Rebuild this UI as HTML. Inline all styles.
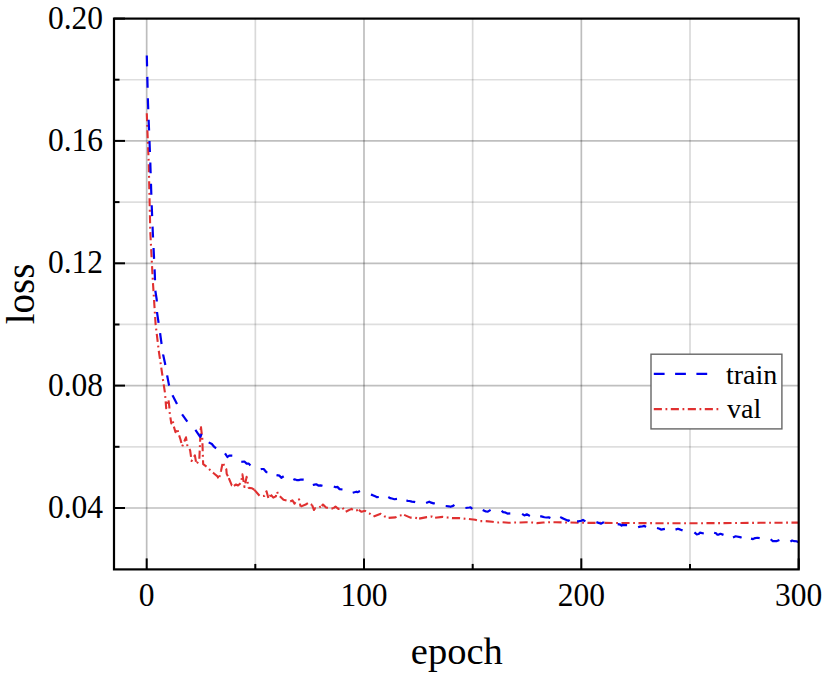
<!DOCTYPE html>
<html><head><meta charset="utf-8"><style>
html,body{margin:0;padding:0;background:#fff;}
svg{display:block;}
text{font-family:"Liberation Serif",serif;fill:#000;}
</style></head><body>
<svg width="826" height="678" viewBox="0 0 826 678">
<rect width="826" height="678" fill="#fff"/>
<defs><clipPath id="c"><rect x="114.0" y="18.6" width="684.7" height="550.8"/></clipPath></defs>
<line x1="146.67" y1="18.6" x2="146.67" y2="569.4" stroke="#000" stroke-opacity="0.26" stroke-width="1.7"/>
<line x1="255.34" y1="18.6" x2="255.34" y2="569.4" stroke="#000" stroke-opacity="0.15" stroke-width="1.7"/>
<line x1="364.00" y1="18.6" x2="364.00" y2="569.4" stroke="#000" stroke-opacity="0.26" stroke-width="1.7"/>
<line x1="472.67" y1="18.6" x2="472.67" y2="569.4" stroke="#000" stroke-opacity="0.15" stroke-width="1.7"/>
<line x1="581.34" y1="18.6" x2="581.34" y2="569.4" stroke="#000" stroke-opacity="0.26" stroke-width="1.7"/>
<line x1="690.00" y1="18.6" x2="690.00" y2="569.4" stroke="#000" stroke-opacity="0.15" stroke-width="1.7"/>
<line x1="114.0" y1="508.00" x2="798.7" y2="508.00" stroke="#000" stroke-opacity="0.25" stroke-width="1.7"/>
<line x1="114.0" y1="446.82" x2="798.7" y2="446.82" stroke="#000" stroke-opacity="0.13" stroke-width="1.7"/>
<line x1="114.0" y1="385.64" x2="798.7" y2="385.64" stroke="#000" stroke-opacity="0.25" stroke-width="1.7"/>
<line x1="114.0" y1="324.46" x2="798.7" y2="324.46" stroke="#000" stroke-opacity="0.13" stroke-width="1.7"/>
<line x1="114.0" y1="263.28" x2="798.7" y2="263.28" stroke="#000" stroke-opacity="0.25" stroke-width="1.7"/>
<line x1="114.0" y1="202.10" x2="798.7" y2="202.10" stroke="#000" stroke-opacity="0.13" stroke-width="1.7"/>
<line x1="114.0" y1="140.92" x2="798.7" y2="140.92" stroke="#000" stroke-opacity="0.25" stroke-width="1.7"/>
<line x1="114.0" y1="79.74" x2="798.7" y2="79.74" stroke="#000" stroke-opacity="0.13" stroke-width="1.7"/>
<g clip-path="url(#c)" fill="none" stroke-linejoin="round">
<polyline points="146.80,113.20 147.60,135.00 148.70,162.00 150.30,232.00 152.40,273.00 153.00,283.50 155.60,324.30 158.80,351.00 162.20,374.00 163.00,380.00 164.90,392.40 165.30,397.00 166.20,408.30 168.40,399.50 169.30,406.50 169.50,411.40 171.30,423.40 172.80,419.80 173.30,424.70 175.50,432.20 177.20,428.50 178.30,432.90 180.50,439.50 182.20,446.50 186.00,437.30 187.20,445.10 190.10,450.20 191.60,461.00 194.90,455.40 196.40,464.20 199.30,459.80 200.80,425.50 202.30,438.40 202.60,448.00 203.00,460.20 203.20,464.20 207.40,467.20 210.40,470.50 214.00,473.50 217.50,476.40 218.70,479.40 221.10,470.50 222.80,462.20 224.60,467.00 226.30,469.20 226.70,473.90 228.80,478.10" stroke="#e03030" stroke-width="2.1" stroke-dasharray="8.1 3.6 1.8 3.5"/>
<polyline points="228.80,478.10 231.80,485.30 233.90,485.80" stroke="#e03030" stroke-width="2.1" stroke-dasharray="8.1 3.6 1.8 3.5"/>
<polyline points="233.90,485.80 236.00,484.50 238.00,485.50 241.10,482.80 242.40,474.30 244.50,487.00 246.60,476.90 248.70,487.90 252.10,488.30 254.20,489.60" stroke="#e03030" stroke-width="2.1" stroke-dasharray="8.1 3.6 1.8 3.5"/>
<polyline points="254.20,489.60 259.70,495.90 261.00,496.20 264.40,495.90 266.50,491.30 268.60,498.90 270.80,494.70" stroke="#e03030" stroke-width="2.1" stroke-dasharray="8.1 3.6 1.8 3.5"/>
<polyline points="270.80,494.70 273.30,497.60 275.80,496.40 277.10,491.70 278.40,495.00 283.50,499.70 287.00,500.60 290.30,501.50" stroke="#e03030" stroke-width="2.1" stroke-dasharray="8.1 3.6 1.8 3.5"/>
<polyline points="290.30,501.50 292.40,500.30 294.50,503.60 295.70,501.80 299.10,499.40 300.60,506.60" stroke="#e03030" stroke-width="2.1" stroke-dasharray="8.1 3.6 1.8 3.5"/>
<polyline points="300.60,506.60 305.70,504.50 308.90,502.60 312.10,505.10" stroke="#e03030" stroke-width="2.1" stroke-dasharray="8.1 3.6 1.8 3.5"/>
<polyline points="312.10,505.10 314.00,510.00 315.10,508.20 318.10,508.00 321.80,506.00" stroke="#e03030" stroke-width="2.1" stroke-dasharray="8.1 3.6 1.8 3.5"/>
<polyline points="321.80,506.00 323.00,504.50 326.00,507.50 329.30,508.20 333.10,508.50" stroke="#e03030" stroke-width="2.1" stroke-dasharray="8.1 3.6 1.8 3.5"/>
<polyline points="333.10,508.50 335.50,506.50 338.40,509.00 342.30,507.40 345.70,511.80" stroke="#e03030" stroke-width="2.1" stroke-dasharray="8.1 3.6 1.8 3.5"/>
<polyline points="345.70,511.80 351.50,508.90 354.40,510.80 358.80,509.90" stroke="#e03030" stroke-width="2.1" stroke-dasharray="8.1 3.6 1.8 3.5"/>
<polyline points="358.80,509.90 361.50,511.80 365.00,510.80 369.70,513.60 373.60,516.50" stroke="#e03030" stroke-width="2.1" stroke-dasharray="8.1 3.6 1.8 3.5"/>
<polyline points="373.60,516.50 380.80,513.80 384.70,516.50 388.60,517.90" stroke="#e03030" stroke-width="2.1" stroke-dasharray="8.1 3.6 1.8 3.5"/>
<polyline points="388.60,517.90 395.40,517.40 399.20,515.50 404.10,514.90" stroke="#e03030" stroke-width="2.1" stroke-dasharray="8.1 3.6 1.8 3.5"/>
<polyline points="404.10,514.90 410.40,517.60 414.70,517.60 419.10,518.60" stroke="#e03030" stroke-width="2.1" stroke-dasharray="8.1 3.6 1.8 3.5"/>
<polyline points="419.10,518.60 426.80,517.10 431.70,516.50 435.10,517.70" stroke="#e03030" stroke-width="2.1" stroke-dasharray="8.1 3.6 1.8 3.5"/>
<polyline points="435.10,517.70 442.70,516.90 447.40,517.50 452.00,518.10 459.20,518.10 463.50,518.60 468.60,519.00 475.30,519.80 480.00,521.10 485.10,521.10 492.30,521.80 497.00,522.60 502.40,522.20 508.70,522.80 514.20,522.50 520.50,522.50 526.00,522.20 532.30,522.50 537.00,523.10 543.30,522.50 549.60,522.20 555.90,522.20 580.00,522.80 620.00,523.00 660.00,523.20 700.00,523.20 740.00,523.00 760.00,522.80 798.70,522.60" stroke="#e03030" stroke-width="2.1" stroke-dasharray="8.1 3.6 1.8 3.5"/>
<polyline points="146.80,55.50 147.40,80.00 148.00,103.00 148.80,124.00 149.70,146.00 150.30,162.40 151.50,200.00 152.80,232.50 154.80,273.70 155.30,290.60 156.70,299.50 157.10,312.80 158.30,320.80 160.10,333.20 161.30,342.00 163.10,354.50 165.00,363.30 167.20,375.70 168.90,384.60 169.20,385.60" stroke="#0000f0" stroke-width="2.2" stroke-dasharray="10.9 10.5"/>
<polyline points="172.50,395.20 177.00,404.00" stroke="#0000f0" stroke-width="2.2"/>
<polyline points="182.10,414.40 187.30,421.70" stroke="#0000f0" stroke-width="2.2"/>
<polyline points="195.40,429.90 199.80,436.30 200.40,436.80 201.60,433.90" stroke="#0000f0" stroke-width="2.2"/>
<polyline points="208.70,442.40 211.87,444.07 214.04,446.73 216.10,448.30" stroke="#0000f0" stroke-width="2.2"/>
<polyline points="225.00,453.30 227.40,457.00 229.26,455.58 232.30,455.70" stroke="#0000f0" stroke-width="2.2"/>
<polyline points="241.30,461.80 244.40,461.50 246.64,463.61 248.82,463.62 250.40,465.40" stroke="#0000f0" stroke-width="2.2"/>
<polyline points="260.70,469.30 261.86,468.98 263.70,469.00 266.20,472.05 267.40,472.10" stroke="#0000f0" stroke-width="2.2"/>
<polyline points="276.50,475.10 279.50,475.70 281.30,477.80 283.70,476.30" stroke="#0000f0" stroke-width="2.2"/>
<polyline points="293.40,480.00 294.46,479.33 296.63,480.07 298.80,480.12 300.98,479.52 303.70,479.70" stroke="#0000f0" stroke-width="2.2"/>
<polyline points="312.80,485.00 314.60,484.60 316.19,484.25 318.36,485.53 320.54,485.36 322.50,485.80" stroke="#0000f0" stroke-width="2.2"/>
<polyline points="333.80,486.40 335.75,487.26 337.40,486.90 339.60,489.10 342.50,489.50" stroke="#0000f0" stroke-width="2.2"/>
<polyline points="352.70,492.70 356.30,491.70 357.48,492.23 360.00,491.00" stroke="#0000f0" stroke-width="2.2"/>
<polyline points="370.90,494.60 372.70,495.15 375.20,496.30 377.04,497.17 378.80,497.00" stroke="#0000f0" stroke-width="2.2"/>
<polyline points="388.30,497.00 390.08,498.08 391.90,498.50 394.43,499.23 397.00,498.90" stroke="#0000f0" stroke-width="2.2"/>
<polyline points="406.40,500.40 407.47,500.80 409.40,501.00 411.82,501.62 413.99,501.78 415.20,502.10" stroke="#0000f0" stroke-width="2.2"/>
<polyline points="426.10,502.90 429.20,501.66 430.40,502.40 433.55,503.38 434.80,503.20" stroke="#0000f0" stroke-width="2.2"/>
<polyline points="445.70,506.00 448.76,506.28 450.50,506.80 453.11,505.87 454.40,504.90" stroke="#0000f0" stroke-width="2.2"/>
<polyline points="465.40,508.00 469.30,507.50 470.50,507.28 472.20,509.10" stroke="#0000f0" stroke-width="2.2"/>
<polyline points="482.70,509.90 485.90,511.50 487.88,511.57 490.60,509.90" stroke="#0000f0" stroke-width="2.2"/>
<polyline points="501.60,510.70 503.10,512.09 504.80,512.30 507.44,513.56 510.30,513.40" stroke="#0000f0" stroke-width="2.2"/>
<polyline points="522.10,513.80 524.40,515.40 526.80,514.30 529.90,515.90" stroke="#0000f0" stroke-width="2.2"/>
<polyline points="540.20,516.20 542.22,516.59 544.39,517.24 546.50,517.50 548.74,517.37 550.40,518.10" stroke="#0000f0" stroke-width="2.2"/>
<polyline points="560.20,517.00 561.78,517.88 564.20,518.90 566.50,519.90 568.30,520.81 569.70,519.90" stroke="#0000f0" stroke-width="2.2"/>
<polyline points="577.00,521.41 578.30,521.40 581.34,520.78 583.00,519.90 585.40,521.40" stroke="#0000f0" stroke-width="2.2"/>
<polyline points="596.40,522.10 599.60,523.30 600.90,523.68 603.07,522.49 604.30,522.50" stroke="#0000f0" stroke-width="2.2"/>
<polyline points="617.70,524.10 620.46,524.65 621.60,525.70 622.63,524.93 624.80,525.09 627.10,525.20" stroke="#0000f0" stroke-width="2.2"/>
<polyline points="638.10,527.30 640.02,526.64 642.10,526.50 644.36,525.84 646.00,527.00" stroke="#0000f0" stroke-width="2.2"/>
<polyline points="657.00,528.00 659.58,528.73 661.00,529.60 664.90,528.80" stroke="#0000f0" stroke-width="2.2"/>
<polyline points="675.50,529.60 677.90,528.80 679.14,529.15 681.31,529.93 682.60,530.40" stroke="#0000f0" stroke-width="2.2"/>
<polyline points="694.40,532.30 696.80,534.30 698.70,533.98 699.90,532.70 703.80,533.50" stroke="#0000f0" stroke-width="2.2"/>
<polyline points="714.10,532.70 716.08,533.21 717.20,534.60 718.26,534.74 720.43,533.81 723.50,534.90" stroke="#0000f0" stroke-width="2.2"/>
<polyline points="733.00,537.50 735.64,536.34 736.90,536.50 739.99,537.09 741.60,537.80" stroke="#0000f0" stroke-width="2.2"/>
<polyline points="751.00,538.60 753.03,539.06 755.20,538.07 757.38,537.75 759.70,538.20" stroke="#0000f0" stroke-width="2.2"/>
<polyline points="770.70,539.30 772.59,541.06 773.90,541.20 776.94,541.07 779.40,540.10" stroke="#0000f0" stroke-width="2.2"/>
<polyline points="790.40,541.70 792.15,540.53 794.30,541.20 796.50,541.26 798.70,542.20" stroke="#0000f0" stroke-width="2.2"/>
</g>
<rect x="114.0" y="18.6" width="684.7" height="550.8" fill="none" stroke="#000" stroke-width="2.2"/>
<line x1="146.7" y1="569.4" x2="146.7" y2="558.4" stroke="#000" stroke-width="2"/>
<line x1="255.3" y1="569.4" x2="255.3" y2="563.9" stroke="#000" stroke-width="2"/>
<line x1="364.0" y1="569.4" x2="364.0" y2="558.4" stroke="#000" stroke-width="2"/>
<line x1="472.7" y1="569.4" x2="472.7" y2="563.9" stroke="#000" stroke-width="2"/>
<line x1="581.3" y1="569.4" x2="581.3" y2="558.4" stroke="#000" stroke-width="2"/>
<line x1="690.0" y1="569.4" x2="690.0" y2="563.9" stroke="#000" stroke-width="2"/>
<line x1="798.7" y1="569.4" x2="798.7" y2="558.4" stroke="#000" stroke-width="2"/>
<line x1="114.0" y1="508.0" x2="125.0" y2="508.0" stroke="#000" stroke-width="2"/>
<line x1="114.0" y1="446.8" x2="119.5" y2="446.8" stroke="#000" stroke-width="2"/>
<line x1="114.0" y1="385.6" x2="125.0" y2="385.6" stroke="#000" stroke-width="2"/>
<line x1="114.0" y1="324.5" x2="119.5" y2="324.5" stroke="#000" stroke-width="2"/>
<line x1="114.0" y1="263.3" x2="125.0" y2="263.3" stroke="#000" stroke-width="2"/>
<line x1="114.0" y1="202.1" x2="119.5" y2="202.1" stroke="#000" stroke-width="2"/>
<line x1="114.0" y1="140.9" x2="125.0" y2="140.9" stroke="#000" stroke-width="2"/>
<line x1="114.0" y1="79.7" x2="119.5" y2="79.7" stroke="#000" stroke-width="2"/>
<line x1="114.0" y1="18.6" x2="125.0" y2="18.6" stroke="#000" stroke-width="2"/>
<g font-size="33">
<text transform="translate(146.7,606) scale(0.955,1)" text-anchor="middle">0</text>
<text transform="translate(364.0,606) scale(0.955,1)" text-anchor="middle">100</text>
<text transform="translate(581.3,606) scale(0.955,1)" text-anchor="middle">200</text>
<text transform="translate(798.7,606) scale(0.955,1)" text-anchor="middle">300</text>
<text transform="translate(103,28.6) scale(0.955,1)" text-anchor="end">0.20</text>
<text transform="translate(103,150.9) scale(0.955,1)" text-anchor="end">0.16</text>
<text transform="translate(103,273.3) scale(0.955,1)" text-anchor="end">0.12</text>
<text transform="translate(103,395.6) scale(0.955,1)" text-anchor="end">0.08</text>
<text transform="translate(103,518.0) scale(0.955,1)" text-anchor="end">0.04</text>
</g>
<text x="456.8" y="663.9" font-size="38.5" text-anchor="middle">epoch</text>
<text transform="translate(34,294) rotate(-90)" font-size="39" text-anchor="middle">loss</text>
<rect x="651" y="354.2" width="130.9" height="74.7" fill="#fff" stroke="#666" stroke-width="1.4"/>
<line x1="653.8" y1="373.8" x2="707.3" y2="373.8" stroke="#0000f0" stroke-width="2.2" stroke-dasharray="10.8 10.5"/>
<line x1="653.8" y1="409.1" x2="718.3" y2="409.1" stroke="#e03030" stroke-width="2.2" stroke-dasharray="8.1 3.6 1.8 3.5"/>
<text x="726" y="383.7" font-size="28">train</text>
<text x="727" y="418.2" font-size="28">val</text>
</svg>
</body></html>
